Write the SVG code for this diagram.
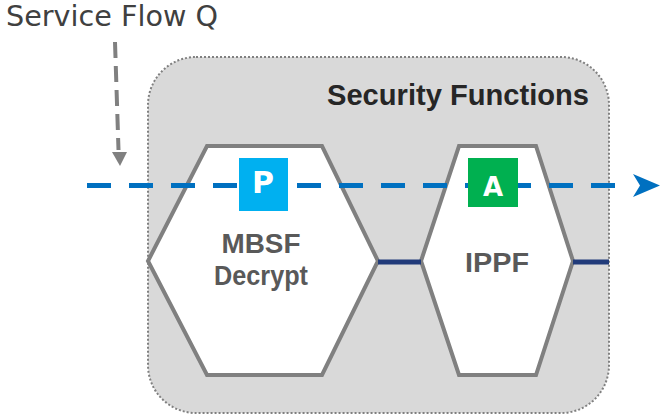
<svg xmlns="http://www.w3.org/2000/svg" width="660" height="417" viewBox="0 0 660 417">
  <style>
    .hex { fill: #ffffff; stroke: #808080; stroke-width: 4; stroke-linejoin: miter; }
    .lbl { font-family: "Liberation Sans", Arial, sans-serif; font-weight: bold; fill: #595959; text-anchor: middle; }
    .badge { font-family: "DejaVu Sans", "Liberation Sans", sans-serif; fill: #ffffff; text-anchor: middle; }
    .link { stroke: #213b7a; stroke-width: 5; fill: none; }
  </style>
  <rect width="660" height="417" fill="#ffffff"/>

  <g id="security-functions">
    <rect x="148" y="57" width="461" height="356" rx="48" ry="48" fill="#d9d9d9" stroke="#808080" stroke-width="2" stroke-dasharray="2 2"/>
    <text x="589" y="105" font-family="Liberation Sans, Arial, sans-serif" font-weight="bold" font-size="30" fill="#262626" text-anchor="end" textLength="262" lengthAdjust="spacingAndGlyphs">Security Functions</text>
  </g>

  <text x="6" y="26" font-family="DejaVu Sans, Liberation Sans, sans-serif" font-size="28" fill="#404040" textLength="212" lengthAdjust="spacingAndGlyphs">Service Flow Q</text>

  <g id="mbsf-decrypt">
    <polygon class="hex" points="207,146 322,146 378,261 322,375 207,375 148,261"/>
    <text class="lbl" x="261" y="253" font-size="27" textLength="79" lengthAdjust="spacingAndGlyphs">MBSF</text>
    <text class="lbl" x="261" y="285" font-size="27" textLength="94" lengthAdjust="spacingAndGlyphs">Decrypt</text>
  </g>

  <g id="ippf">
    <polygon class="hex" points="459,146 536,146 573,261 536,375 459,375 421,261"/>
    <text class="lbl" x="497" y="272" font-size="27" textLength="64" lengthAdjust="spacingAndGlyphs">IPPF</text>
  </g>

  <g id="connectors">
    <line class="link" x1="378" y1="262" x2="421" y2="262"/>
    <line class="link" x1="573" y1="262" x2="609" y2="262"/>
    <line x1="87" y1="185.5" x2="615" y2="185.5" stroke="#0070c0" stroke-width="5" stroke-dasharray="24 18"/>
    <path d="M633,174 L660,185.5 L633,197 L640,185.5 Z" fill="#0070c0"/>
    <line x1="115" y1="42" x2="118.5" y2="150" stroke="#808080" stroke-width="4" stroke-dasharray="16 8"/>
    <path d="M112,152 L127,152 L120,166 Z" fill="#808080"/>
  </g>

  <g id="badge-p">
    <rect x="239" y="158" width="49" height="53" fill="#00b0f0"/>
    <text class="badge" x="263" y="193" font-size="30" font-weight="bold">P</text>
  </g>

  <g id="badge-a">
    <rect x="468" y="158" width="50" height="49" fill="#00b050"/>
    <text class="badge" x="493" y="196" font-size="26" font-weight="bold">A</text>
  </g>
</svg>
